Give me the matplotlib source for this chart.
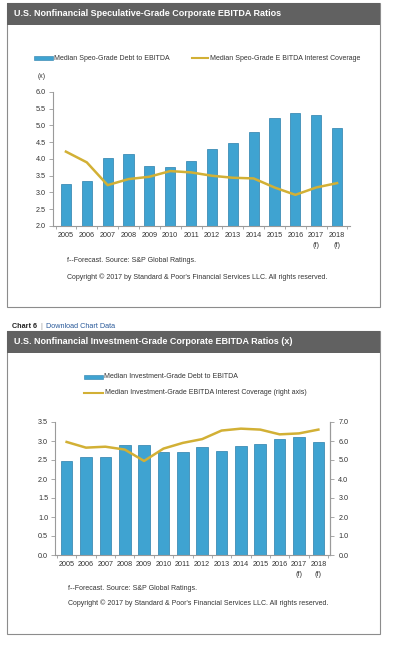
#!/usr/bin/env python3
"""Two S&P EBITDA ratio panels (speculative-grade and investment-grade)."""

import matplotlib

matplotlib.use("Agg")
import matplotlib.pyplot as plt
from matplotlib.patches import Rectangle
from matplotlib.lines import Line2D
import numpy as np

plt.rcParams["font.family"] = ["Liberation Sans", "DejaVu Sans"]

W, H = 397, 647

years = ["2005", "2006", "2007", "2008", "2009", "2010", "2011", "2012",
         "2013", "2014", "2015", "2016", "2017\n(f)", "2018\n(f)"]

spec_debt = [3.25, 3.35, 4.02, 4.15, 3.80, 3.77, 3.95, 4.30, 4.48, 4.82,
             5.22, 5.37, 5.30, 4.92]
spec_cov = [4.22, 3.90, 3.22, 3.40, 3.47, 3.64, 3.60, 3.50, 3.44, 3.42,
            3.15, 2.93, 3.15, 3.28]

inv_debt = [2.48, 2.58, 2.58, 2.90, 2.90, 2.70, 2.72, 2.85, 2.74, 2.88,
            2.93, 3.06, 3.10, 2.98]
inv_cov = [5.95, 5.65, 5.70, 5.55, 4.95, 5.60, 5.90, 6.10, 6.55, 6.65,
           6.60, 6.35, 6.40, 6.60]

BAR = "#3fa3d1"
BAR_EDGE = "#2a7fab"
LINE = "#d2b035"
HEADER = "#616161"
AXIS = "#9a9a9a"
TXT = "#333333"


def fx(px):
    return px / W


def fy(py):
    return 1 - py / H


def rect(x0, y0, x1, y1):
    # pixel box (top-left origin) -> figure fraction [l, b, w, h]
    return [fx(x0), fy(y1), fx(x1 - x0), (y1 - y0) / H]


def panel_frame(fig, y0, y1, header_h, title):
    fig.patches.append(Rectangle((fx(7), fy(y1)), fx(373), (y1 - y0) / H,
                                 transform=fig.transFigure, facecolor="white",
                                 edgecolor="#8c8c8c", lw=0.8, zorder=-2))
    fig.patches.append(Rectangle((fx(7), fy(y0 + header_h)), fx(373), header_h / H,
                                 transform=fig.transFigure, facecolor=HEADER,
                                 edgecolor="none", zorder=-1))
    fig.text(fx(14), fy(y0 + header_h / 2), title, color="white", fontsize=6.5,
             fontweight="bold", va="center", ha="left")


def style_axes(ax, n, right=False):
    ax.patch.set_alpha(0)
    for side in ["top", "right"]:
        ax.spines[side].set_visible(False)
    for side in ["left", "bottom"]:
        ax.spines[side].set_color(AXIS)
        ax.spines[side].set_linewidth(0.8)
    if right:
        ax.spines["right"].set_visible(True)
        ax.spines["right"].set_color(AXIS)
    ax.set_xticks(np.arange(n + 1) - 0.5, minor=True)
    ax.tick_params(axis="y", colors=AXIS, labelcolor=TXT, labelsize=5.2,
                   length=3, width=0.6, pad=2)
    ax.tick_params(axis="x", which="major", length=0, labelcolor=TXT,
                   labelsize=5.2, pad=4)
    ax.tick_params(axis="x", which="minor", length=2.5, width=0.6, color=AXIS)


def legend_patch(fig, x, y, label):
    fig.patches.append(Rectangle((fx(x), fy(y + 2)), fx(19), 4 / H,
                                 transform=fig.transFigure, facecolor=BAR,
                                 edgecolor=BAR_EDGE, lw=0.4))
    fig.text(fx(x + 20), fy(y), label, fontsize=5.0, color=TXT, va="center")


def legend_line(fig, x, y, label, length=16):
    fig.lines.append(Line2D([fx(x), fx(x + length)], [fy(y), fy(y)],
                            transform=fig.transFigure, color=LINE, lw=1.5))
    fig.text(fx(x + length + 2), fy(y), label, fontsize=5.0, color=TXT, va="center")


fig = plt.figure(figsize=(W / 100, H / 100), dpi=100)
x = np.arange(len(years))

# ---- top panel: speculative grade ----
panel_frame(fig, 3, 307, 22, "U.S. Nonfinancial Speculative-Grade Corporate EBITDA Ratios")
legend_patch(fig, 34, 58, "Median Speo-Grade Debt to EBITDA")
legend_line(fig, 192, 58, "Median Speo-Grade E BITDA Interest Coverage")
fig.text(fx(38), fy(77), "(x)", fontsize=5.0, color=TXT, va="center")

ax1 = fig.add_axes(rect(53, 92, 350, 226))
ax1.bar(x, spec_debt, width=0.48, color=BAR, edgecolor=BAR_EDGE, linewidth=0.5)
ax1.plot(x, spec_cov, color=LINE, lw=1.8)
ax1.set_ylim(2.0, 6.0)
ax1.set_yticks(np.arange(2.0, 6.01, 0.5))
ax1.set_yticklabels([f"{v:.1f}" for v in np.arange(2.0, 6.01, 0.5)])
ax1.set_xlim(-0.62, len(years) - 0.38)
ax1.set_xticks(x)
ax1.set_xticklabels(years, linespacing=1.6)
style_axes(ax1, len(years))

fig.text(fx(67), fy(260), "f--Forecast. Source: S&P Global Ratings.", fontsize=5.0,
         color=TXT, va="center")
fig.text(fx(67), fy(277),
         "Copyright \u00a9 2017 by Standard & Poor's Financial Services LLC. All rights reserved.",
         fontsize=5.0, color=TXT, va="center")

# ---- bottom panel: investment grade ----
fig.text(fx(12), fy(326), "Chart 6", fontsize=5.2, fontweight="bold", color="#222222",
         va="center")
fig.text(fx(40), fy(326), "|", fontsize=5.2, color="#999999", va="center")
fig.text(fx(46), fy(326), "Download Chart Data", fontsize=5.2, color="#2a5a9a",
         va="center")
panel_frame(fig, 331, 634, 22, "U.S. Nonfinancial Investment-Grade Corporate EBITDA Ratios (x)")
legend_patch(fig, 84, 377, "Median Investment-Grade Debt to EBITDA")
legend_line(fig, 84, 393, "Median Investment-Grade EBITDA Interest Coverage (right axis)", length=19)

ax2 = fig.add_axes(rect(55, 422, 330, 555))
ax2.bar(x, inv_debt, width=0.6, color=BAR, edgecolor=BAR_EDGE, linewidth=0.5)
ax2.set_ylim(0, 3.5)
ax2.set_yticks(np.arange(0, 3.51, 0.5))
ax2.set_yticklabels([f"{v:.1f}" for v in np.arange(0, 3.51, 0.5)])
ax2.set_xlim(-0.6, len(years) - 0.4)
ax2.set_xticks(x)
ax2.set_xticklabels(years, linespacing=1.6)
style_axes(ax2, len(years), right=True)

ax3 = ax2.twinx()
ax3.patch.set_alpha(0)
ax3.plot(x, inv_cov, color=LINE, lw=1.8)
ax3.set_ylim(0, 7.0)
ax3.set_yticks(np.arange(0, 7.01, 1.0))
ax3.set_yticklabels([f"{v:.1f}" for v in np.arange(0, 7.01, 1.0)])
for side in ["top", "left", "bottom"]:
    ax3.spines[side].set_visible(False)
ax3.spines["right"].set_color(AXIS)
ax3.spines["right"].set_linewidth(0.8)
ax3.tick_params(axis="y", colors=AXIS, labelcolor=TXT, labelsize=5.2,
                length=3, width=0.6, pad=3)

fig.text(fx(68), fy(588), "f--Forecast. Source: S&P Global Ratings.", fontsize=5.0,
         color=TXT, va="center")
fig.text(fx(68), fy(603),
         "Copyright \u00a9 2017 by Standard & Poor's Financial Services LLC. All rights reserved.",
         fontsize=5.0, color=TXT, va="center")

fig.savefig("out.png", dpi=100)
